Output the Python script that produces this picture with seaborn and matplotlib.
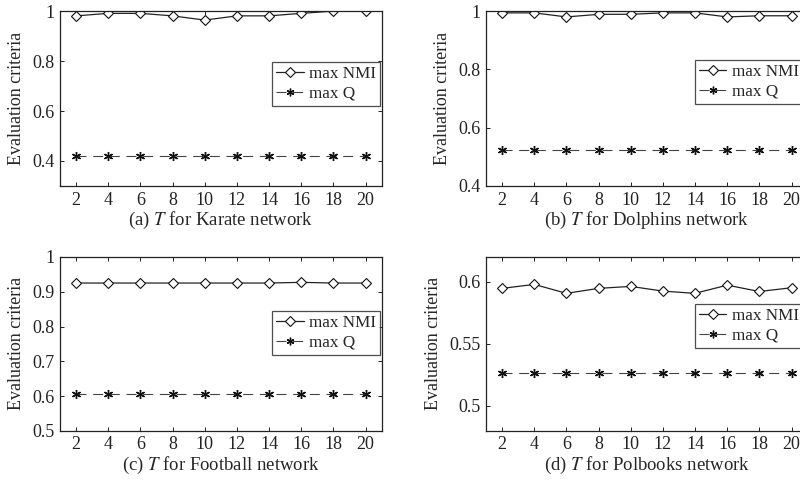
import numpy as np
import pandas as pd
import matplotlib
matplotlib.use("Agg")
import matplotlib.pyplot as plt
import seaborn as sns

# Parameter T sweep
T_values = [2, 4, 6, 8, 10, 12, 14, 16, 18, 20]

karate_nmi = [0.981, 0.991, 0.991, 0.981, 0.964, 0.981, 0.981, 0.991, 1.000, 1.000]
karate_q = [0.420] * 10

dolphins_nmi = [0.994, 0.994, 0.980, 0.989, 0.989, 0.994, 0.994, 0.980, 0.984, 0.984]
dolphins_q = [0.524] * 10

football_nmi = [0.925, 0.925, 0.925, 0.925, 0.925, 0.925, 0.925, 0.927, 0.925, 0.925]
football_q = [0.605] * 10

polbooks_nmi = [0.5947, 0.5979, 0.5907, 0.5947, 0.5963, 0.5925, 0.5907, 0.5973, 0.5922, 0.5952]
polbooks_q = [0.5265] * 10

panel_labels = ["(a) $T$ for Karate network", "(b) $T$ for Dolphins network",
                "(c) $T$ for Football network", "(d) $T$ for Polbooks network"]
y_limits = [(0.3, 1.0), (0.4, 1.0), (0.5, 1.0), (0.48, 0.62)]
y_ticks = [[0.4, 0.6, 0.8, 1.0], [0.4, 0.6, 0.8, 1.0],
           [0.5, 0.6, 0.7, 0.8, 0.9, 1.0], [0.5, 0.55, 0.6]]
y_ticklabels = [["0.4", "0.6", "0.8", "1"], ["0.4", "0.6", "0.8", "1"],
                ["0.5", "0.6", "0.7", "0.8", "0.9", "1"], ["0.5", "0.55", "0.6"]]
legend_tops = [0.71, 0.72, 0.69, 0.73]
legend_right = [0.995, 0.985, 0.995, 0.985]

series = [(karate_nmi, karate_q), (dolphins_nmi, dolphins_q),
          (football_nmi, football_q), (polbooks_nmi, polbooks_q)]

sns.set_style("ticks")
plt.rcParams["font.family"] = ["Liberation Serif", "DejaVu Serif"]
plt.rcParams["mathtext.fontset"] = "stix"
plt.rcParams["font.size"] = 13
plt.rcParams["xtick.direction"] = "in"
plt.rcParams["ytick.direction"] = "in"

fig = plt.figure(figsize=(8.0, 4.83), dpi=100)
positions = [
    [0.075, 0.615, 0.402, 0.362],
    [0.6075, 0.615, 0.402, 0.362],
    [0.075, 0.108, 0.402, 0.360],
    [0.6075, 0.108, 0.402, 0.360],
]

# six-armed asterisk marker
asterisk = (6, 2, 0)

for i, (nmi, q) in enumerate(series):
    ax = fig.add_axes(positions[i])
    df = pd.DataFrame({"T": T_values, "max NMI": nmi, "max Q": q})
    sns.lineplot(data=df, x="T", y="max NMI", ax=ax, color="#222222", lw=0.9,
                 marker="D", markersize=5.5, markerfacecolor="white",
                 markeredgecolor="#111111", markeredgewidth=0.8, label="max NMI")
    sns.lineplot(data=df, x="T", y="max Q", ax=ax, color="#444444", lw=0.8,
                 linestyle=(0, (9, 6)), marker=asterisk, markersize=6.5,
                 markerfacecolor="#111111", markeredgecolor="#111111",
                 markeredgewidth=1.0, label="max Q")
    ax.set_xlim(1, 21)
    ax.set_ylim(*y_limits[i])
    ax.set_xticks(T_values)
    ax.set_yticks(y_ticks[i])
    ax.set_yticklabels(y_ticklabels[i])
    ax.set_xlabel(panel_labels[i], fontsize=13.5, labelpad=1)
    ax.set_ylabel("Evaluation criteria", fontsize=13, labelpad=5)
    ax.tick_params(axis="both", labelsize=13, top=True, right=True,
                   length=3, width=0.7, colors="#222222", pad=4)
    for sp in ax.spines.values():
        sp.set_visible(True)
        sp.set_linewidth(0.9)
        sp.set_color("#222222")
    leg = ax.legend(loc="upper right", bbox_to_anchor=(legend_right[i], legend_tops[i]),
                    frameon=True, fancybox=False, fontsize=12.3, handlelength=1.6,
                    handletextpad=0.3, borderpad=0.25, labelspacing=0.2,
                    borderaxespad=0.0, markerscale=0.85)
    leg.get_frame().set_edgecolor("#222222")
    leg.get_frame().set_linewidth(0.9)

fig.savefig("out.png", dpi=100)
